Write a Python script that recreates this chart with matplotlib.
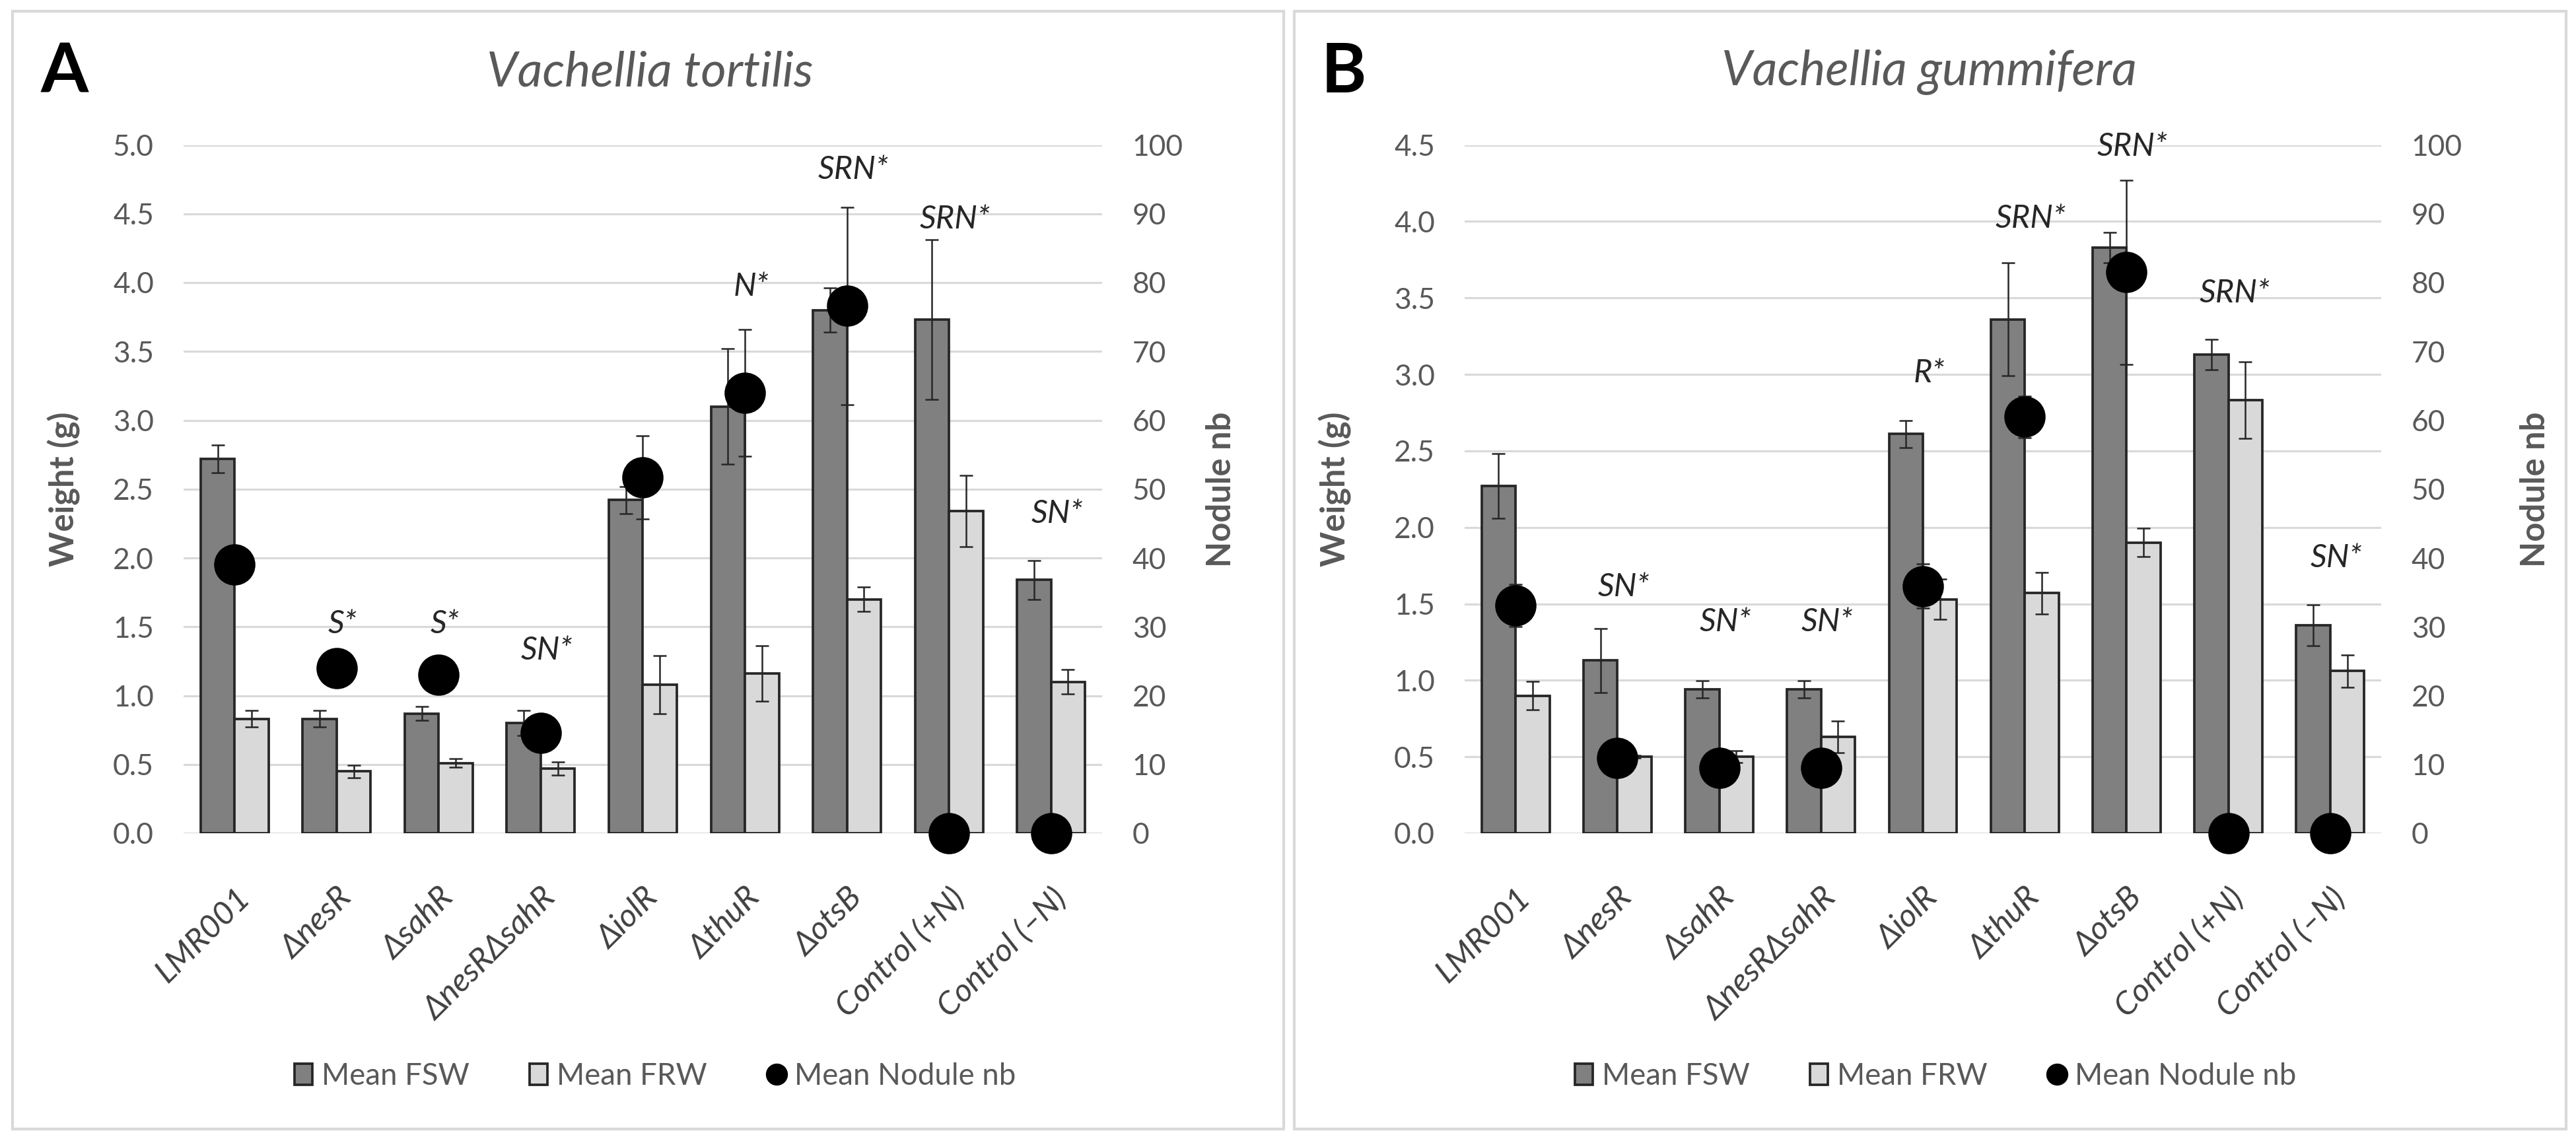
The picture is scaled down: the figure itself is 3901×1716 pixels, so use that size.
import numpy as np
import matplotlib
matplotlib.use('Agg')
import matplotlib.pyplot as plt
from matplotlib.patches import Rectangle, Patch
from matplotlib.lines import Line2D
from matplotlib.ticker import FormatStrFormatter

# ---------------- data ----------------
categories = ['LMR001', 'ΔnesR', 'ΔsahR', 'ΔnesRΔsahR', 'ΔiolR', 'ΔthuR',
              'ΔotsB', 'Control (+N)', 'Control (–N)']

# Panel A : Vachellia tortilis
fsw_A = [2.72, 0.83, 0.87, 0.80, 2.42, 3.10, 3.80, 3.73, 1.84]
fsw_A_err = [0.10, 0.06, 0.05, 0.09, 0.10, 0.42, 0.16, 0.58, 0.14]
frw_A = [0.83, 0.45, 0.51, 0.47, 1.08, 1.16, 1.70, 2.34, 1.10]
frw_A_err = [0.06, 0.045, 0.03, 0.05, 0.21, 0.20, 0.09, 0.26, 0.09]
nod_A = [39.0, 24.0, 23.0, 14.6, 51.7, 64.0, 76.6, 0.0, 0.0]
nod_A_err = [0, 0, 0, 0, 6.0, 9.2, 14.3, 0, 0]
ann_A = ['', 'S*', 'S*', 'SN*', '', 'N*', 'SRN*', 'SRN*', 'SN*']
ann_A_y = [np.nan, 1.52, 1.52, 1.33, np.nan, 3.97, 4.82, 4.46, 2.32]

# Panel B : Vachellia gummifera
fsw_B = [2.27, 1.13, 0.94, 0.94, 2.61, 3.36, 3.83, 3.13, 1.36]
fsw_B_err = [0.21, 0.21, 0.055, 0.055, 0.09, 0.37, 0.10, 0.10, 0.135]
frw_B = [0.90, 0.50, 0.50, 0.63, 1.53, 1.57, 1.90, 2.83, 1.06]
frw_B_err = [0.093, 0.01, 0.04, 0.105, 0.13, 0.135, 0.093, 0.25, 0.107]
nod_B = [33.1, 10.9, 9.5, 9.5, 35.9, 60.5, 81.5, 0.0, 0.0]
nod_B_err = [3.1, 0, 0, 0, 3.2, 3.0, 13.4, 0, 0]
ann_B = ['', 'SN*', 'SN*', 'SN*', 'R*', 'SRN*', 'SRN*', 'SRN*', 'SN*']
ann_B_y = [np.nan, 1.61, 1.38, 1.38, 3.01, 4.02, 4.49, 3.53, 1.80]

left_ticks_A = [0.0, 0.5, 1.0, 1.5, 2.0, 2.5, 3.0, 3.5, 4.0, 4.5, 5.0]
left_ticks_B = [0.0, 0.5, 1.0, 1.5, 2.0, 2.5, 3.0, 3.5, 4.0, 4.5]
right_ticks = [0, 10, 20, 30, 40, 50, 60, 70, 80, 90, 100]

# ---------------- style ----------------
plt.rcParams['font.family'] = ['Lato', 'DejaVu Sans']
W, H = 3901, 1716
DPI = 300
fig = plt.figure(figsize=(W / DPI, H / DPI), dpi=DPI)
fig.patch.set_facecolor('white')
renderer = fig.canvas.get_renderer()

DARK = '#262626'
GREY_TXT = '#595959'
FSW_C = '#808080'
FRW_C = '#d9d9d9'


def fit_size(s, target_px, **kw):
    """font size (pt) so that string s is target_px wide."""
    t = fig.text(0, 0, s, fontsize=10, **kw)
    w = t.get_window_extent(renderer).width
    t.remove()
    return 10 * target_px / w


TITLE_FS = fit_size('Vachellia tortilis', 494, style='italic')
XLAB_FS = fit_size('Control (+N)', 254, style='italic')
ANN_FS = fit_size('SRN*', 107, style='italic')
TICK_FS = fit_size('100', 77)
YLAB_FS = fit_size('Weight (g)', 235, weight='bold')
LEG_FS = fit_size('Mean Nodule nb', 335)
LET_FS = fit_size('A', 72, weight='bold')


def rect(x0, y0, x1, y1):
    return [x0 / W, 1 - y1 / H, (x1 - x0) / W, (y1 - y0) / H]


def panel(frame, axbox, fsw, fsw_err, frw, frw_err, nod, nod_err,
          ann, ann_y, lticks, ymax):
    fx0, fy0, fx1, fy1 = frame
    fig.add_artist(Rectangle((fx0 / W, 1 - fy1 / H), (fx1 - fx0) / W, (fy1 - fy0) / H,
                             transform=fig.transFigure, fill=False,
                             edgecolor='#d9d9d9', linewidth=1.0))
    ax = fig.add_axes(rect(*axbox))
    x = np.arange(len(categories))
    w = 1 / 3
    ax.bar(x - w / 2, fsw, w, color=FSW_C, edgecolor=DARK, linewidth=0.9, zorder=2)
    ax.bar(x + w / 2, frw, w, color=FRW_C, edgecolor=DARK, linewidth=0.9, zorder=2)
    ax.errorbar(x - w / 2, fsw, yerr=fsw_err, fmt='none', ecolor=DARK,
                elinewidth=0.6, capsize=2.4, capthick=0.6, zorder=3)
    ax.errorbar(x + w / 2, frw, yerr=frw_err, fmt='none', ecolor=DARK,
                elinewidth=0.6, capsize=2.4, capthick=0.6, zorder=3)
    ax.set_xlim(-0.5, len(categories) - 0.5)
    ax.set_ylim(0, ymax)
    ax.set_yticks(lticks)
    ax.yaxis.set_major_formatter(FormatStrFormatter('%.1f'))
    ax.yaxis.grid(True, color='#d9d9d9', linewidth=0.75)
    ax.set_axisbelow(True)
    for s in ax.spines.values():
        s.set_visible(False)
    ax.tick_params(axis='y', length=0, pad=10.8, labelsize=TICK_FS, labelcolor=GREY_TXT)
    ax.set_xticks(x)
    ax.set_xticklabels(categories, rotation=45, ha='right', rotation_mode='anchor',
                       style='italic', fontsize=XLAB_FS, color='#404040')
    ax.tick_params(axis='x', length=0, pad=18)
    for i, (t, yy) in enumerate(zip(ann, ann_y)):
        if t:
            ax.text(i + 0.06, yy, t, ha='center', va='center', style='italic',
                    fontsize=ANN_FS, color=DARK, zorder=6)

    ax2 = ax.twinx()
    ax2.set_ylim(0, 100)
    ax2.set_yticks(right_ticks)
    for s in ax2.spines.values():
        s.set_visible(False)
    ax2.tick_params(axis='y', length=0, pad=11, labelsize=TICK_FS, labelcolor=GREY_TXT)
    ax2.errorbar(x, nod, yerr=nod_err, fmt='none', ecolor=DARK,
                 elinewidth=0.6, capsize=2.4, capthick=0.6, zorder=4)
    ax2.plot(x, nod, 'o', ms=14, color='black', linestyle='none', zorder=5, clip_on=False)
    return ax


panel((19, 17, 1944, 1710), (278, 219.5, 1669, 1262),
      fsw_A, fsw_A_err, frw_A, frw_A_err, nod_A, nod_A_err, ann_A, ann_A_y,
      left_ticks_A, 5.0)
panel((1960, 17, 3886, 1710), (2218, 219.5, 3606, 1262),
      fsw_B, fsw_B_err, frw_B, frw_B_err, nod_B, nod_B_err, ann_B, ann_B_y,
      left_ticks_B, 4.5)

# texts
fig.text(98 / W, 1 - 110 / H, 'A', fontsize=LET_FS, weight='bold', color='black',
         ha='center', va='center')
fig.text(2035 / W, 1 - 110 / H, 'B', fontsize=LET_FS, weight='bold', color='black',
         ha='center', va='center')
fig.text(984 / W, 1 - 110 / H, 'Vachellia tortilis', fontsize=TITLE_FS, style='italic',
         color=GREY_TXT, ha='center', va='center')
fig.text(2921 / W, 1 - 110 / H, 'Vachellia gummifera', fontsize=TITLE_FS, style='italic',
         color=GREY_TXT, ha='center', va='center')
for xl, xr in [(97, 1850), (2022, 3840)]:
    fig.text(xl / W, 1 - 741 / H, 'Weight (g)', rotation=90, fontsize=YLAB_FS,
             weight='bold', color=GREY_TXT, ha='center', va='center')
    fig.text(xr / W, 1 - 741 / H, 'Nodule nb', rotation=90, fontsize=YLAB_FS,
             weight='bold', color=GREY_TXT, ha='center', va='center')

handles = [Patch(facecolor=FSW_C, edgecolor=DARK, linewidth=0.9),
           Patch(facecolor=FRW_C, edgecolor=DARK, linewidth=0.9),
           Line2D([], [], marker='o', linestyle='none', color='black', markersize=7)]
labels = ['Mean FSW', 'Mean FRW', 'Mean Nodule nb']
for cx in (992, 2931):
    fig.legend(handles, labels, loc='center', bbox_to_anchor=(cx / W, 1 - 1630 / H),
               ncol=3, frameon=False, fontsize=LEG_FS, handlelength=0.6, handleheight=0.7,
               handletextpad=0.3, columnspacing=2.0, labelcolor=GREY_TXT)

fig.savefig('out.png', dpi=DPI, facecolor='white')
